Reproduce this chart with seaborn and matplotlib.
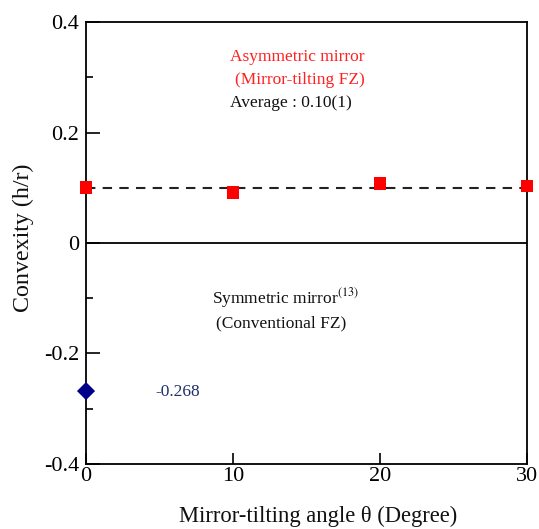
import matplotlib
matplotlib.use("Agg")
import matplotlib.pyplot as plt
import seaborn as sns
import pandas as pd
from matplotlib.ticker import MultipleLocator

sns.set_theme(style="white")
plt.rcParams['font.family'] = ['Liberation Serif', 'DejaVu Serif']
plt.rcParams['mathtext.fontset'] = 'stix'

angles = [0, 10, 20, 30]
convexity_asym = [0.101, 0.092, 0.107, 0.103]
sym_angle = [0]
sym_convexity = [-0.268]
average = 0.10

fig = plt.figure(figsize=(5.39, 5.29), dpi=100)
ax = fig.add_axes([0.1596, 0.1229, 0.8181, 0.8355])

ax.axhline(0, color='black', lw=1.3, zorder=1)
ax.axhline(average, color='#222222', lw=1.5, ls=(0, (4.5, 3.5)), zorder=1)

df_a = pd.DataFrame({'angle': angles, 'conv': convexity_asym})
df_s = pd.DataFrame({'angle': sym_angle, 'conv': sym_convexity})
sns.scatterplot(data=df_a, x='angle', y='conv', marker='s', s=85, color='#ff0000',
                edgecolor='none', ax=ax, clip_on=False, zorder=3)
sns.scatterplot(data=df_s, x='angle', y='conv', marker='D', s=85, color='#00008b',
                edgecolor='none', ax=ax, clip_on=False, zorder=3)

ax.set_xlim(0, 30)
ax.set_ylim(-0.4, 0.4)
ax.xaxis.set_major_locator(MultipleLocator(10))
ax.yaxis.set_major_locator(MultipleLocator(0.2))
ax.yaxis.set_minor_locator(MultipleLocator(0.1))
ax.tick_params(axis='both', which='both', direction='in', top=False, right=False,
               labelsize=16, colors='black')
ax.tick_params(axis='y', which='major', length=10, width=1.2, left=True, pad=5)
ax.tick_params(axis='y', which='minor', length=5, width=1.2, left=True)
ax.tick_params(axis='x', which='major', length=8, width=1.2, bottom=True, pad=2)
ax.set_xticks([0, 10, 20, 30])
ax.set_xticklabels(['0', '10', '20', '30'])
ax.set_yticks([-0.4, -0.2, 0, 0.2, 0.4])
ax.set_yticklabels(['-0.4', '-0.2', '0', '0.2', '0.4'])
for sp in ax.spines.values():
    sp.set_color('black')
    sp.set_linewidth(1.3)

ax.set_xlabel('Mirror-tilting angle θ (Degree)', fontsize=16.3, color='#111111', va='center')
ax.set_ylabel('Convexity (h/r)', fontsize=17.3, color='#111111', va='center')
ax.xaxis.set_label_coords(0.526, -0.119)
ax.yaxis.set_label_coords(-0.141, 0.511)

ax.text(14.35, 0.337, 'Asymmetric mirror', color='#ff2020', fontsize=12.5, ha='center', va='center')
ax.text(14.56, 0.295, '(Mirror-tilting FZ)', color='#ff2020', fontsize=12.5, ha='center', va='center')
ax.text(13.95, 0.253, 'Average : 0.10(1)', color='#111111', fontsize=12.5, ha='center', va='center')
ax.text(13.54, -0.0995, 'Symmetric mirror$^{(13)}$', color='#111111', fontsize=12.5, ha='center', va='center')
ax.text(13.27, -0.145, '(Conventional FZ)', color='#111111', fontsize=12.5, ha='center', va='center')
ax.text(6.26, -0.270, '-0.268', color='#1f2f6f', fontsize=12.5, ha='center', va='center')

fig.savefig('out.png', dpi=100)
